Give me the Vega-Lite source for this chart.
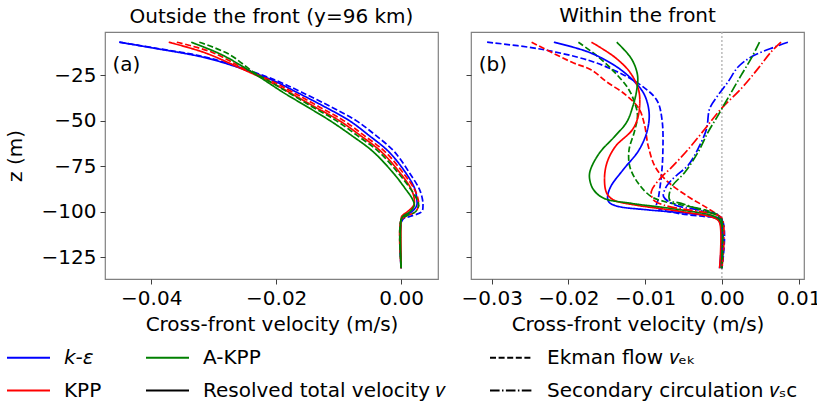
{
  "$schema": "https://vega.github.io/schema/vega-lite/v6.json",
  "padding": {"left": 4, "top": 5, "right": 8, "bottom": 0},
  "config": {
    "font": "DejaVu Sans",
    "view": {"stroke": "#808080", "strokeWidth": 1.2},
    "axis": {"grid": false, "domain": false, "tickColor": "#404040", "tickSize": 5, "tickWidth": 1, "labelFontSize": 20, "labelColor": "black", "labelPadding": 4, "titleFontSize": 20, "titleFontWeight": "normal", "titleColor": "black", "labelFont": "DejaVu Sans", "titleFont": "DejaVu Sans", "titlePadding": 6},
    "title": {"fontSize": 20, "fontWeight": "normal", "font": "DejaVu Sans", "offset": 5, "color": "black"}
  },
  "datasets": {
    "outside": [
      {"m":"k-ε","c":"ekman","x":-0.0451,"z":-7},{"m":"k-ε","c":"ekman","x":-0.0394,"z":-10.2},{"m":"k-ε","c":"ekman","x":-0.0314,"z":-15.1},{"m":"k-ε","c":"ekman","x":-0.0252,"z":-21.5},{"m":"k-ε","c":"ekman","x":-0.0200,"z":-28},{"m":"k-ε","c":"ekman","x":-0.0160,"z":-34.3},{"m":"k-ε","c":"ekman","x":-0.0112,"z":-42.5},{"m":"k-ε","c":"ekman","x":-0.0072,"z":-50},{"m":"k-ε","c":"ekman","x":-0.0041,"z":-58},{"m":"k-ε","c":"ekman","x":-0.0011,"z":-67},{"m":"k-ε","c":"ekman","x":0.0014,"z":-79},{"m":"k-ε","c":"ekman","x":0.0029,"z":-87.5},{"m":"k-ε","c":"ekman","x":0.0034,"z":-93},{"m":"k-ε","c":"ekman","x":0.0035,"z":-96.5},{"m":"k-ε","c":"ekman","x":0.0033,"z":-100},{"m":"k-ε","c":"ekman","x":0.0015,"z":-102.5},{"m":"k-ε","c":"ekman","x":0.0002,"z":-104.5},{"m":"k-ε","c":"ekman","x":0,"z":-131},
      {"m":"k-ε","c":"total","x":-0.0451,"z":-7},{"m":"k-ε","c":"total","x":-0.0395,"z":-10.3},{"m":"k-ε","c":"total","x":-0.0316,"z":-15.3},{"m":"k-ε","c":"total","x":-0.0254,"z":-21.6},{"m":"k-ε","c":"total","x":-0.0205,"z":-28},{"m":"k-ε","c":"total","x":-0.0168,"z":-34.3},{"m":"k-ε","c":"total","x":-0.0122,"z":-42.5},{"m":"k-ε","c":"total","x":-0.0083,"z":-50},{"m":"k-ε","c":"total","x":-0.0052,"z":-58},{"m":"k-ε","c":"total","x":-0.0020,"z":-67},{"m":"k-ε","c":"total","x":0.0008,"z":-79},{"m":"k-ε","c":"total","x":0.0022,"z":-87.5},{"m":"k-ε","c":"total","x":0.0025,"z":-93},{"m":"k-ε","c":"total","x":0.0025,"z":-96.5},{"m":"k-ε","c":"total","x":0.0017,"z":-100},{"m":"k-ε","c":"total","x":0.0004,"z":-102.5},{"m":"k-ε","c":"total","x":0,"z":-104.5},{"m":"k-ε","c":"total","x":0,"z":-131},
      {"m":"KPP","c":"total","x":-0.0372,"z":-7},{"m":"KPP","c":"total","x":-0.0314,"z":-12.8},{"m":"KPP","c":"total","x":-0.0250,"z":-22.4},{"m":"KPP","c":"total","x":-0.0214,"z":-28},{"m":"KPP","c":"total","x":-0.0180,"z":-34.3},{"m":"KPP","c":"total","x":-0.0138,"z":-42.5},{"m":"KPP","c":"total","x":-0.0099,"z":-50},{"m":"KPP","c":"total","x":-0.0066,"z":-58},{"m":"KPP","c":"total","x":-0.0032,"z":-67},{"m":"KPP","c":"total","x":-0.0001,"z":-79},{"m":"KPP","c":"total","x":0.0016,"z":-87.5},{"m":"KPP","c":"total","x":0.0021,"z":-93},{"m":"KPP","c":"total","x":0.0020,"z":-96.5},{"m":"KPP","c":"total","x":0.0010,"z":-100},{"m":"KPP","c":"total","x":0.0001,"z":-102.5},{"m":"KPP","c":"total","x":0,"z":-104.5},{"m":"KPP","c":"total","x":0,"z":-131},
      {"m":"KPP","c":"ekman","x":-0.0359,"z":-7},{"m":"KPP","c":"ekman","x":-0.0303,"z":-12.5},{"m":"KPP","c":"ekman","x":-0.0246,"z":-22.4},{"m":"KPP","c":"ekman","x":-0.0209,"z":-28},{"m":"KPP","c":"ekman","x":-0.0174,"z":-34.3},{"m":"KPP","c":"ekman","x":-0.0131,"z":-42.5},{"m":"KPP","c":"ekman","x":-0.0092,"z":-50},{"m":"KPP","c":"ekman","x":-0.0060,"z":-58},{"m":"KPP","c":"ekman","x":-0.0026,"z":-67},{"m":"KPP","c":"ekman","x":0.0004,"z":-79},{"m":"KPP","c":"ekman","x":0.0021,"z":-87.5},{"m":"KPP","c":"ekman","x":0.0027,"z":-93},{"m":"KPP","c":"ekman","x":0.0028,"z":-96.5},{"m":"KPP","c":"ekman","x":0.0023,"z":-100},{"m":"KPP","c":"ekman","x":0.0008,"z":-102.5},{"m":"KPP","c":"ekman","x":0,"z":-104.5},{"m":"KPP","c":"ekman","x":0,"z":-131},
      {"m":"A-KPP","c":"total","x":-0.0336,"z":-7},{"m":"A-KPP","c":"total","x":-0.0287,"z":-13.9},{"m":"A-KPP","c":"total","x":-0.0239,"z":-23.4},{"m":"A-KPP","c":"total","x":-0.0218,"z":-28},{"m":"A-KPP","c":"total","x":-0.0190,"z":-34.3},{"m":"A-KPP","c":"total","x":-0.0150,"z":-42.5},{"m":"A-KPP","c":"total","x":-0.0114,"z":-50},{"m":"A-KPP","c":"total","x":-0.0080,"z":-58},{"m":"A-KPP","c":"total","x":-0.0045,"z":-67},{"m":"A-KPP","c":"total","x":-0.0012,"z":-79},{"m":"A-KPP","c":"total","x":0.0007,"z":-87.5},{"m":"A-KPP","c":"total","x":0.0018,"z":-93},{"m":"A-KPP","c":"total","x":0.0021,"z":-96.5},{"m":"A-KPP","c":"total","x":0.0014,"z":-100},{"m":"A-KPP","c":"total","x":0.0003,"z":-102.5},{"m":"A-KPP","c":"total","x":0,"z":-104.5},{"m":"A-KPP","c":"total","x":0,"z":-131},
      {"m":"A-KPP","c":"ekman","x":-0.0323,"z":-7},{"m":"A-KPP","c":"ekman","x":-0.0276,"z":-13.5},{"m":"A-KPP","c":"ekman","x":-0.0236,"z":-23.4},{"m":"A-KPP","c":"ekman","x":-0.0213,"z":-28},{"m":"A-KPP","c":"ekman","x":-0.0182,"z":-34.3},{"m":"A-KPP","c":"ekman","x":-0.0142,"z":-42.5},{"m":"A-KPP","c":"ekman","x":-0.0104,"z":-50},{"m":"A-KPP","c":"ekman","x":-0.0071,"z":-58},{"m":"A-KPP","c":"ekman","x":-0.0036,"z":-67},{"m":"A-KPP","c":"ekman","x":-0.0004,"z":-79},{"m":"A-KPP","c":"ekman","x":0.0015,"z":-87.5},{"m":"A-KPP","c":"ekman","x":0.0025,"z":-93},{"m":"A-KPP","c":"ekman","x":0.0028,"z":-96.5},{"m":"A-KPP","c":"ekman","x":0.0023,"z":-100},{"m":"A-KPP","c":"ekman","x":0.0007,"z":-102.5},{"m":"A-KPP","c":"ekman","x":0,"z":-104.5},{"m":"A-KPP","c":"ekman","x":0,"z":-131}
    ],
    "within": [
      {"m":"k-ε","c":"ekman","x":-0.0306,"z":-7},{"m":"k-ε","c":"ekman","x":-0.0239,"z":-10.6},{"m":"k-ε","c":"ekman","x":-0.0174,"z":-16.9},{"m":"k-ε","c":"ekman","x":-0.0140,"z":-22.5},{"m":"k-ε","c":"ekman","x":-0.0109,"z":-29.6},{"m":"k-ε","c":"ekman","x":-0.0085,"z":-38.7},{"m":"k-ε","c":"ekman","x":-0.0078,"z":-49.7},{"m":"k-ε","c":"ekman","x":-0.0077,"z":-67.9},{"m":"k-ε","c":"ekman","x":-0.0079,"z":-80.8},{"m":"k-ε","c":"ekman","x":-0.0083,"z":-93},{"m":"k-ε","c":"ekman","x":-0.0085,"z":-97.5},{"m":"k-ε","c":"ekman","x":-0.0057,"z":-100.9},{"m":"k-ε","c":"ekman","x":-0.0022,"z":-102.7},{"m":"k-ε","c":"ekman","x":0,"z":-104.5},{"m":"k-ε","c":"ekman","x":0,"z":-131},
      {"m":"KPP","c":"ekman","x":-0.0248,"z":-7},{"m":"KPP","c":"ekman","x":-0.0196,"z":-17.9},{"m":"KPP","c":"ekman","x":-0.0170,"z":-22.3},{"m":"KPP","c":"ekman","x":-0.0150,"z":-28.8},{"m":"KPP","c":"ekman","x":-0.0125,"z":-36},{"m":"KPP","c":"ekman","x":-0.0108,"z":-43.5},{"m":"KPP","c":"ekman","x":-0.0101,"z":-52},{"m":"KPP","c":"ekman","x":-0.0096,"z":-64},{"m":"KPP","c":"ekman","x":-0.0087,"z":-75.3},{"m":"KPP","c":"ekman","x":-0.0072,"z":-83},{"m":"KPP","c":"ekman","x":-0.0044,"z":-91.7},{"m":"KPP","c":"ekman","x":-0.0022,"z":-97.2},{"m":"KPP","c":"ekman","x":-0.0003,"z":-102.7},{"m":"KPP","c":"ekman","x":0,"z":-104.5},{"m":"KPP","c":"ekman","x":0,"z":-131},
      {"m":"A-KPP","c":"ekman","x":-0.0187,"z":-7},{"m":"A-KPP","c":"ekman","x":-0.0161,"z":-15.1},{"m":"A-KPP","c":"ekman","x":-0.0140,"z":-23.4},{"m":"A-KPP","c":"ekman","x":-0.0122,"z":-32.5},{"m":"A-KPP","c":"ekman","x":-0.0114,"z":-39.8},{"m":"A-KPP","c":"ekman","x":-0.0110,"z":-47.1},{"m":"A-KPP","c":"ekman","x":-0.0114,"z":-56},{"m":"A-KPP","c":"ekman","x":-0.0121,"z":-66},{"m":"A-KPP","c":"ekman","x":-0.0120,"z":-75.3},{"m":"A-KPP","c":"ekman","x":-0.0109,"z":-84.4},{"m":"A-KPP","c":"ekman","x":-0.0092,"z":-91.7},{"m":"A-KPP","c":"ekman","x":-0.0074,"z":-94.5},{"m":"A-KPP","c":"ekman","x":-0.0053,"z":-96.3},{"m":"A-KPP","c":"ekman","x":-0.0022,"z":-99},{"m":"A-KPP","c":"ekman","x":-0.0005,"z":-101.8},{"m":"A-KPP","c":"ekman","x":0,"z":-104.5},{"m":"A-KPP","c":"ekman","x":0,"z":-131},
      {"m":"k-ε","c":"total","x":-0.0219,"z":-7},{"m":"k-ε","c":"total","x":-0.0174,"z":-12.4},{"m":"k-ε","c":"total","x":-0.0140,"z":-19.7},{"m":"k-ε","c":"total","x":-0.0118,"z":-27},{"m":"k-ε","c":"total","x":-0.0102,"z":-35},{"m":"k-ε","c":"total","x":-0.0095,"z":-45},{"m":"k-ε","c":"total","x":-0.0097,"z":-55},{"m":"k-ε","c":"total","x":-0.0108,"z":-66.1},{"m":"k-ε","c":"total","x":-0.0129,"z":-77.1},{"m":"k-ε","c":"total","x":-0.0145,"z":-86.3},{"m":"k-ε","c":"total","x":-0.0149,"z":-92},{"m":"k-ε","c":"total","x":-0.0147,"z":-94.8},{"m":"k-ε","c":"total","x":-0.0137,"z":-96.9},{"m":"k-ε","c":"total","x":-0.0096,"z":-99},{"m":"k-ε","c":"total","x":-0.0044,"z":-100.9},{"m":"k-ε","c":"total","x":-0.0014,"z":-102.7},{"m":"k-ε","c":"total","x":-0.0003,"z":-105.5},{"m":"k-ε","c":"total","x":-0.0003,"z":-131},
      {"m":"KPP","c":"total","x":-0.0170,"z":-7},{"m":"KPP","c":"total","x":-0.0140,"z":-15.1},{"m":"KPP","c":"total","x":-0.0120,"z":-23.4},{"m":"KPP","c":"total","x":-0.0109,"z":-32.5},{"m":"KPP","c":"total","x":-0.0107,"z":-40},{"m":"KPP","c":"total","x":-0.0110,"z":-49},{"m":"KPP","c":"total","x":-0.0117,"z":-55.2},{"m":"KPP","c":"total","x":-0.0139,"z":-64.3},{"m":"KPP","c":"total","x":-0.0150,"z":-73.4},{"m":"KPP","c":"total","x":-0.0153,"z":-82.6},{"m":"KPP","c":"total","x":-0.0150,"z":-89.9},{"m":"KPP","c":"total","x":-0.0141,"z":-93.6},{"m":"KPP","c":"total","x":-0.0113,"z":-96.3},{"m":"KPP","c":"total","x":-0.0053,"z":-99.9},{"m":"KPP","c":"total","x":-0.0009,"z":-103.6},{"m":"KPP","c":"total","x":-0.0003,"z":-106},{"m":"KPP","c":"total","x":-0.0003,"z":-131},
      {"m":"A-KPP","c":"total","x":-0.0137,"z":-7},{"m":"A-KPP","c":"total","x":-0.0118,"z":-16},{"m":"A-KPP","c":"total","x":-0.0110,"z":-25},{"m":"A-KPP","c":"total","x":-0.0111,"z":-33.2},{"m":"A-KPP","c":"total","x":-0.0116,"z":-42},{"m":"A-KPP","c":"total","x":-0.0124,"z":-50.8},{"m":"A-KPP","c":"total","x":-0.0140,"z":-58.8},{"m":"A-KPP","c":"total","x":-0.0160,"z":-68},{"m":"A-KPP","c":"total","x":-0.0172,"z":-78},{"m":"A-KPP","c":"total","x":-0.0172,"z":-83},{"m":"A-KPP","c":"total","x":-0.0167,"z":-88.1},{"m":"A-KPP","c":"total","x":-0.0154,"z":-92.6},{"m":"A-KPP","c":"total","x":-0.0118,"z":-95.4},{"m":"A-KPP","c":"total","x":-0.0053,"z":-99},{"m":"A-KPP","c":"total","x":-0.0009,"z":-102.7},{"m":"A-KPP","c":"total","x":-0.0001,"z":-106},{"m":"A-KPP","c":"total","x":-0.0001,"z":-131},
      {"m":"k-ε","c":"sc","x":0.0086,"z":-7},{"m":"k-ε","c":"sc","x":0.0069,"z":-9.6},{"m":"k-ε","c":"sc","x":0.0038,"z":-15.1},{"m":"k-ε","c":"sc","x":0.0021,"z":-20.6},{"m":"k-ε","c":"sc","x":0.0008,"z":-28.8},{"m":"k-ε","c":"sc","x":-0.0005,"z":-36.1},{"m":"k-ε","c":"sc","x":-0.0016,"z":-43.5},{"m":"k-ε","c":"sc","x":-0.0020,"z":-54.5},{"m":"k-ε","c":"sc","x":-0.0031,"z":-65.4},{"m":"k-ε","c":"sc","x":-0.0044,"z":-74.5},{"m":"k-ε","c":"sc","x":-0.0059,"z":-80},{"m":"k-ε","c":"sc","x":-0.0068,"z":-83.7},{"m":"k-ε","c":"sc","x":-0.0074,"z":-87.4},{"m":"k-ε","c":"sc","x":-0.0076,"z":-91.7},{"m":"k-ε","c":"sc","x":-0.0061,"z":-96.3},{"m":"k-ε","c":"sc","x":-0.0031,"z":-99},{"m":"k-ε","c":"sc","x":-0.0005,"z":-101.8},{"m":"k-ε","c":"sc","x":0,"z":-104},{"m":"k-ε","c":"sc","x":0,"z":-131},
      {"m":"KPP","c":"sc","x":0.0077,"z":-7},{"m":"KPP","c":"sc","x":0.0064,"z":-12.4},{"m":"KPP","c":"sc","x":0.0047,"z":-21.5},{"m":"KPP","c":"sc","x":0.0025,"z":-32.5},{"m":"KPP","c":"sc","x":-0.0001,"z":-43.5},{"m":"KPP","c":"sc","x":-0.0022,"z":-54.5},{"m":"KPP","c":"sc","x":-0.0044,"z":-65.8},{"m":"KPP","c":"sc","x":-0.0066,"z":-75.8},{"m":"KPP","c":"sc","x":-0.0081,"z":-82},{"m":"KPP","c":"sc","x":-0.0092,"z":-89},{"m":"KPP","c":"sc","x":-0.0089,"z":-93.6},{"m":"KPP","c":"sc","x":-0.0076,"z":-96.3},{"m":"KPP","c":"sc","x":-0.0044,"z":-99},{"m":"KPP","c":"sc","x":-0.0014,"z":-100.9},{"m":"KPP","c":"sc","x":0,"z":-103.6},{"m":"KPP","c":"sc","x":0,"z":-131},
      {"m":"A-KPP","c":"sc","x":0.0049,"z":-7},{"m":"A-KPP","c":"sc","x":0.0038,"z":-16},{"m":"A-KPP","c":"sc","x":0.0025,"z":-25.2},{"m":"A-KPP","c":"sc","x":0.0010,"z":-36.1},{"m":"A-KPP","c":"sc","x":-0.0005,"z":-47.1},{"m":"A-KPP","c":"sc","x":-0.0018,"z":-56.3},{"m":"A-KPP","c":"sc","x":-0.0031,"z":-67.3},{"m":"A-KPP","c":"sc","x":-0.0048,"z":-78.2},{"m":"A-KPP","c":"sc","x":-0.0066,"z":-86.8},{"m":"A-KPP","c":"sc","x":-0.0068,"z":-93.6},{"m":"A-KPP","c":"sc","x":-0.0053,"z":-95.4},{"m":"A-KPP","c":"sc","x":-0.0027,"z":-99},{"m":"A-KPP","c":"sc","x":-0.0003,"z":-102.7},{"m":"A-KPP","c":"sc","x":0,"z":-105},{"m":"A-KPP","c":"sc","x":0,"z":-131}
    ],
    "keys": [
      {"entry": "k-ε"}, {"entry": "KPP"}, {"entry": "A-KPP"},
      {"entry": "Resolved total velocity 𝑣"}, {"entry": "Ekman flow 𝑣ₑₖ"}, {"entry": "Secondary circulation 𝑣ₛc"}
    ]
  },
  "vconcat": [
    {
      "hconcat": [
        {
          "width": 333,
          "height": 247,
          "title": "Outside the front (y=96 km)",
          "layer": [
            {
              "data": {"name": "outside"},
              "mark": {"type": "line", "interpolate": "catmull-rom", "strokeWidth": 1.7, "clip": true},
              "encoding": {
                "x": {"field": "x", "type": "quantitative", "scale": {"domain": [-0.0474, 0.0059], "nice": false, "zero": false}, "axis": {"values": [-0.04, -0.02, 0], "format": ".2f", "title": "Cross-front velocity (m/s)"}},
                "y": {"field": "z", "type": "quantitative", "scale": {"domain": [-136.9, -1.4], "nice": false, "zero": false}, "axis": {"values": [-125, -100, -75, -50, -25], "format": "d", "title": "z (m)", "titlePadding": 16}},
                "stroke": {"field": "m", "type": "nominal", "scale": {"domain": ["k-ε", "KPP", "A-KPP"], "range": ["#0000ff", "#ff0000", "#008000"]}, "legend": null},
                "strokeDash": {"field": "c", "type": "nominal", "scale": {"domain": ["total", "ekman", "sc"], "range": [[1, 0], [6, 2.6], [9.6, 2.4, 1.5, 2.4]]}, "legend": null},
                "order": {"field": "z", "sort": "descending"}
              }
            },
            {
              "data": {"values": [{}]},
              "mark": {"type": "text", "fontSize": 20, "align": "left", "baseline": "middle", "color": "black"},
              "encoding": {"x": {"datum": -0.0462}, "y": {"datum": -19.5}, "text": {"value": "(a)"}}
            }
          ]
        },
        {
          "width": 333,
          "height": 247,
          "title": "Within the front",
          "layer": [
            {
              "data": {"values": [{}]},
              "mark": {"type": "rule", "strokeDash": [2, 2], "color": "#b0b0b0", "strokeWidth": 1.3},
              "encoding": {"x": {"datum": 0}}
            },
            {
              "data": {"name": "within"},
              "mark": {"type": "line", "interpolate": "catmull-rom", "strokeWidth": 1.7, "clip": true},
              "encoding": {
                "x": {"field": "x", "type": "quantitative", "scale": {"domain": [-0.0327, 0.0107], "nice": false, "zero": false}, "axis": {"values": [-0.03, -0.02, -0.01, 0, 0.01], "format": ".2f", "title": "Cross-front velocity (m/s)"}},
                "y": {"field": "z", "type": "quantitative", "scale": {"domain": [-136.9, -1.4], "nice": false, "zero": false}, "axis": {"values": [-125, -100, -75, -50, -25], "labels": false, "title": null}},
                "stroke": {"field": "m", "type": "nominal", "scale": {"domain": ["k-ε", "KPP", "A-KPP"], "range": ["#0000ff", "#ff0000", "#008000"]}, "legend": null},
                "strokeDash": {"field": "c", "type": "nominal", "scale": {"domain": ["total", "ekman", "sc"], "range": [[1, 0], [6, 2.6], [9.6, 2.4, 1.5, 2.4]]}, "legend": null},
                "order": {"field": "z", "sort": "descending"}
              }
            },
            {
              "data": {"values": [{}]},
              "mark": {"type": "text", "fontSize": 20, "align": "left", "baseline": "middle", "color": "black"},
              "encoding": {"x": {"datum": -0.0317}, "y": {"datum": -19.5}, "text": {"value": "(b)"}}
            }
          ]
        }
      ],
      "spacing": 21,
      "resolve": {"scale": {"x": "independent", "y": "independent", "stroke": "independent", "strokeDash": "independent"}}
    },
    {
      "width": 1,
      "height": 1,
      "view": {"stroke": null},
      "data": {"name": "keys"},
      "transform": [{"filter": "false"}],
      "mark": {"type": "line", "strokeWidth": 2},
      "encoding": {
        "color": {"field": "entry", "type": "nominal",
          "scale": {"domain": ["k-ε", "KPP", "A-KPP", "Resolved total velocity 𝑣", "Ekman flow 𝑣ₑₖ", "Secondary circulation 𝑣ₛc"], "range": ["#0000ff", "#ff0000", "#008000", "black", "black", "black"]},
          "legend": {"orient": "none", "legendX": -99, "legendY": -1, "columns": 3, "columnPadding": 40, "rowPadding": -6, "symbolType": "stroke", "symbolSize": 1849, "symbolStrokeWidth": 2, "symbolOpacity": 1, "symbolFillColor": "transparent", "labelFontSize": 20, "labelFont": "DejaVu Sans", "labelColor": "black", "labelOffset": 13, "labelLimit": 500, "title": null, "padding": 0,
            "encode": {"labels": {"update": {"fontStyle": {"signal": "datum.label === 'k-ε' ? 'italic' : 'normal'"}}}}}},
        "strokeDash": {"field": "entry", "type": "nominal",
          "scale": {"domain": ["k-ε", "KPP", "A-KPP", "Resolved total velocity 𝑣", "Ekman flow 𝑣ₑₖ", "Secondary circulation 𝑣ₛc"], "range": [[1, 0], [1, 0], [1, 0], [1, 0], [6, 2.6], [9.6, 2.4, 1.5, 2.4]]},
          "legend": {"orient": "none", "legendX": -99, "legendY": -1, "columns": 3, "columnPadding": 40, "rowPadding": -6, "symbolType": "stroke", "symbolSize": 1849, "symbolStrokeWidth": 2, "symbolOpacity": 1, "symbolFillColor": "transparent", "labelFontSize": 20, "labelFont": "DejaVu Sans", "labelColor": "black", "labelOffset": 13, "labelLimit": 500, "title": null, "padding": 0,
            "encode": {"labels": {"update": {"fontStyle": {"signal": "datum.label === 'k-ε' ? 'italic' : 'normal'"}}}}}}
      }
    }
  ],
  "spacing": 0,
  "resolve": {"scale": {"strokeDash": "independent", "color": "independent", "stroke": "independent", "x": "independent", "y": "independent"}}
}
